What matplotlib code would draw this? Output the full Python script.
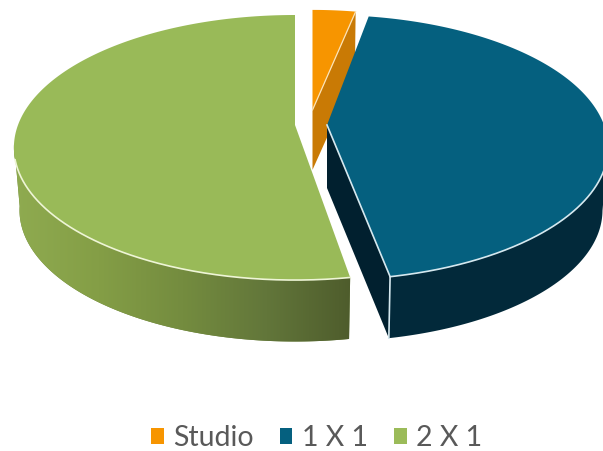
import numpy as np
import matplotlib
matplotlib.use('Agg')
import matplotlib.pyplot as plt
from matplotlib.colors import LinearSegmentedColormap
from matplotlib.patches import Patch, Polygon

labels = ['Studio', '1 X 1', '2 X 1']
values = [3.2, 44.15, 52.65]

top_colors = ['#F79500', '#05607F', '#99BA58']
legend_colors = ['#F79500', '#05607F', '#9BBB59']

# screen position of each slice's tip, how big it is drawn, and its small turn
apex_x = [312.5, 327, 295]
apex_y = [110, 125, 125]
slice_scale = [0.91, 1.0, 1.0]
slice_turn = [0, -1.4, 0]

RX = 277.0
RY = 128.7
TILT = 0.17
DEPTH = 63.0
LIGHT_GREEN = '#EEF5D6'
LIGHT_BLUE = '#D5E8EF'


def project(angle, ax0, ay0, scale, lower=False):
    # angle in degrees clockwise from the back of the pie
    a = np.radians(angle)
    u = np.sin(a)
    v = -np.cos(a)
    w = 1 - TILT * v
    xs = scale * RX * u / w
    ys = scale * RY * v / w
    if lower:
        return ax0 + xs * 0.98, ay0 + ys * 0.99 + DEPTH
    return ax0 + xs, ay0 + ys


def rim(a0, a1, ax0, ay0, scale, lower=False):
    t = np.linspace(a0, a1, 200)
    x, y = project(t, ax0, ay0, scale, lower)
    return np.column_stack([x, y])


fig = plt.figure(figsize=(6.03, 4.51), dpi=100)
ax = fig.add_axes([0, 0, 1, 1])

ends = np.cumsum(values) / np.sum(values) * 360 + slice_turn
starts = np.concatenate([[0], np.cumsum(values)[:-1]]) / np.sum(values) * 360 + slice_turn

# studio: the cut face shows, the big blue slice covers part of it
a0, a1 = starts[0], ends[0]
x0, y0, s = apex_x[0], apex_y[0], slice_scale[0]
edge_top = project(a1, x0, y0, s)
edge_low = project(a1, x0, y0, s, True)
face = np.array([[x0, y0], edge_top, edge_low, [x0, y0 + DEPTH * 0.95]])
ax.add_patch(Polygon(face, fc='#C97A05', ec='none', zorder=1))
top = np.vstack([[[x0, y0]], rim(a0, a1, x0, y0, s)])
ax.add_patch(Polygon(top, fc=top_colors[0], ec='none', zorder=2))
ax.plot([x0, edge_top[0]], [y0, edge_top[1]], color='#FBE3B8', lw=0.9, zorder=2)

# 2 X 1 wall with the shading running left to right
a0, a1 = starts[2], ends[2]
x0, y0, s = apex_x[2], apex_y[2], slice_scale[2]
up = rim(a0, 262, x0, y0, s)
low = rim(a0, 262, x0, y0, s, True)
wall = Polygon(np.vstack([up, low[::-1]]), fc='#6F8540', ec='none', zorder=3)
ax.add_patch(wall)
shade = LinearSegmentedColormap.from_list('wall', ['#8FAB50', '#849E46', '#748C3F', '#62763A', '#4E5C2C'])
im = ax.imshow(np.linspace(0, 1, 256).reshape(1, -1), cmap=shade, aspect='auto',
               extent=[14, 352, 345, 140], zorder=3)
im.set_clip_path(wall)
top = np.vstack([[[x0, y0]], rim(a0, a1, x0, y0, s)])
ax.add_patch(Polygon(top, fc=top_colors[2], ec='none', zorder=4))
front = rim(a0, 255, x0, y0, s)
ax.plot(front[:, 0], front[:, 1], color=LIGHT_GREEN, lw=1.2, zorder=4)

# 1 X 1: wall, cut face, then the top
a0, a1 = starts[1], ends[1]
x0, y0, s = apex_x[1], apex_y[1], slice_scale[1]
up = rim(100, a1, x0, y0, s)
low = rim(100, a1, x0, y0, s, True)
ax.add_patch(Polygon(np.vstack([up, low[::-1]]), fc='#02293A', ec='none', zorder=5))
edge_top = project(a1, x0, y0, s)
edge_low = project(a1, x0, y0, s, True)
face = np.array([[x0, y0], edge_top, edge_low, [x0, y0 + DEPTH]])
ax.add_patch(Polygon(face, fc='#01202F', ec='none', zorder=6))
top = np.vstack([[[x0, y0]], rim(a0, a1, x0, y0, s)])
ax.add_patch(Polygon(top, fc=top_colors[1], ec='none', zorder=7))
front = rim(104, a1, x0, y0, s)
ax.plot(front[:, 0], front[:, 1], color=LIGHT_BLUE, lw=1.2, zorder=8)
ax.plot([x0, edge_top[0], edge_low[0]], [y0, edge_top[1], edge_low[1]], color=LIGHT_BLUE, lw=1.2, zorder=8)

ax.set_xlim(0, 603)
ax.set_ylim(451, 0)
ax.axis('off')

handles = [Patch(fc=c, ec='none', label=l) for c, l in zip(legend_colors, labels)]
ax.legend(handles=handles, ncol=3, loc='center', bbox_to_anchor=(316.5 / 603, 1 - 438 / 451),
          frameon=False, prop={'family': 'Lato', 'size': 20.5}, labelcolor='#595959',
          handlelength=0.45, handleheight=0.45, handletextpad=0.33, columnspacing=0.91,
          borderpad=0, borderaxespad=0)

fig.savefig('out.png', dpi=100)
